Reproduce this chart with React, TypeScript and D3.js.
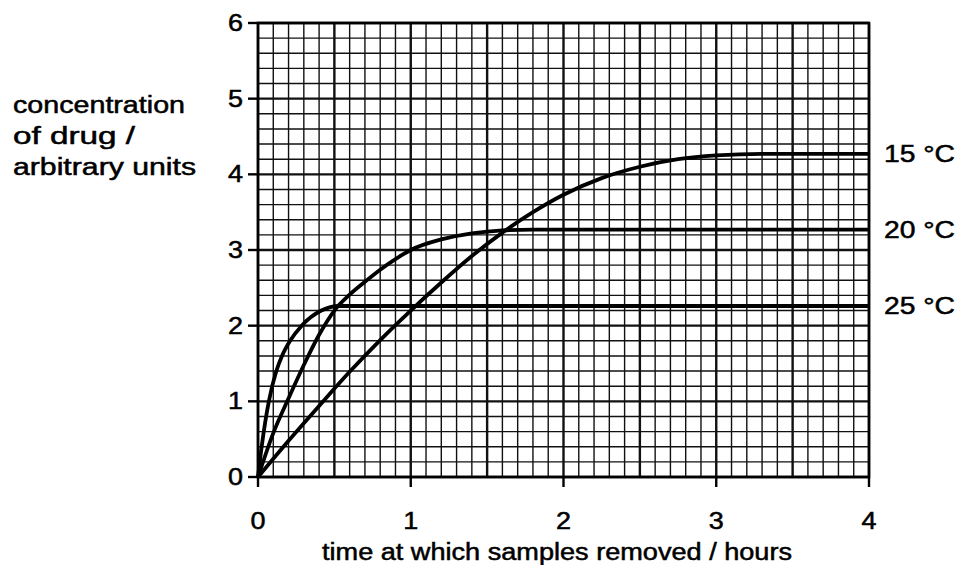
import React, {useEffect, useRef} from 'react'
import * as d3 from 'd3'

const width = 958
const height = 565
const margin = {top: 23, right: 89, bottom: 88, left: 258}
const innerWidth = width - margin.left - margin.right
const innerHeight = height - margin.top - margin.bottom

// readings (time in hours, concentration in arbitrary units)
const time15 = [0, 0.2, 0.4, 0.6, 0.8, 1, 1.2, 1.4, 1.6, 1.8, 2, 2.25, 2.5, 2.75, 3, 3.3, 4]
const conc15 = [0, 0.48, 0.94, 1.39, 1.81, 2.2, 2.57, 2.92, 3.23, 3.5, 3.73, 3.95, 4.1, 4.2, 4.25, 4.27, 4.27]
const time20 = [0, 0.1, 0.2, 0.3, 0.4, 0.5, 0.6, 0.7, 0.8, 0.9, 1, 1.2, 1.4, 1.6, 1.8, 4]
const conc20 = [0, 0.58, 1.04, 1.48, 1.88, 2.2, 2.41, 2.58, 2.74, 2.88, 3.0, 3.14, 3.22, 3.26, 3.27, 3.27]
const time25 = [0, 0.024, 0.071, 0.12, 0.157, 0.21, 0.286, 0.415, 0.53, 0.7, 4]
const conc25 = [0, 0.4, 1.0, 1.4, 1.6, 1.8, 2.0, 2.2, 2.26, 2.26, 2.26]

const seriesLabels = ['15 °C', '20 °C', '25 °C']
const xTicks = [0, 1, 2, 3, 4]
const yTicks = [0, 1, 2, 3, 4, 5, 6]
const yTitle = ['concentration', 'of drug /', 'arbitrary units']
const xTitle = 'time at which samples removed / hours'

const font = '"Liberation Sans", Arial, sans-serif'

const App = () => {
  const chartRef = useRef<SVGSVGElement>(null)

  useEffect(() => {
    drawChart()
  }, [])

  const addText = (sel: any) =>
    sel
      .style('font-family', font)
      .style('font-size', '23px')
      .attr('fill', '#000')
      .attr('stroke', '#000')
      .attr('stroke-width', 0.5)
      .attr('lengthAdjust', 'spacingAndGlyphs')

  const drawChart = () => {
    const svg = d3.select(chartRef.current)
    svg.selectAll('*').remove()

    const xScale = d3.scaleLinear().domain([0, 4]).range([0, innerWidth])
    const yScale = d3.scaleLinear().domain([0, 6]).range([innerHeight, 0])

    const g = svg
      .append('g')
      .attr('transform', `translate(${margin.left},${margin.top})`)

    // graph paper
    const vLines = d3.range(0, 41).map(i => i / 10)
    const hLines = d3.range(0, 31).map(i => i / 5)

    g.selectAll('.vgrid')
      .data(vLines)
      .enter()
      .append('line')
      .attr('x1', d => xScale(d))
      .attr('x2', d => xScale(d))
      .attr('y1', 0)
      .attr('y2', innerHeight)
      .attr('stroke', '#111')
      .attr('stroke-width', (d, i) => (i % 5 === 0 ? 2.4 : 1.4))

    g.selectAll('.hgrid')
      .data(hLines)
      .enter()
      .append('line')
      .attr('x1', 0)
      .attr('x2', innerWidth)
      .attr('y1', d => yScale(d))
      .attr('y2', d => yScale(d))
      .attr('stroke', '#111')
      .attr('stroke-width', (d, i) => (i % 5 === 0 ? 2.4 : 1.4))

    g.append('rect')
      .attr('width', innerWidth)
      .attr('height', innerHeight)
      .attr('fill', 'none')
      .attr('stroke', '#000')
      .attr('stroke-width', 2.6)

    // ticks
    g.selectAll('.xtick')
      .data(xTicks)
      .enter()
      .append('line')
      .attr('x1', d => xScale(d))
      .attr('x2', d => xScale(d))
      .attr('y1', innerHeight)
      .attr('y2', innerHeight + 10)
      .attr('stroke', '#000')
      .attr('stroke-width', 2.4)

    g.selectAll('.ytick')
      .data(yTicks)
      .enter()
      .append('line')
      .attr('x1', -10)
      .attr('x2', 0)
      .attr('y1', d => yScale(d))
      .attr('y2', d => yScale(d))
      .attr('stroke', '#000')
      .attr('stroke-width', 2.4)

    addText(
      g.selectAll('.xlabel')
        .data(xTicks)
        .enter()
        .append('text')
        .attr('x', d => xScale(d))
        .attr('y', innerHeight + 52)
        .attr('text-anchor', 'middle')
        .attr('textLength', 15),
    ).text(d => d)

    addText(
      g.selectAll('.ylabel')
        .data(yTicks)
        .enter()
        .append('text')
        .attr('x', -15)
        .attr('y', d => yScale(d) + 8)
        .attr('text-anchor', 'end')
        .attr('textLength', 15),
    ).text(d => d)

    // curves
    const line = d3
      .line<[number, number]>()
      .x(d => xScale(d[0]))
      .y(d => yScale(d[1]))
      .curve(d3.curveMonotoneX)

    const series = [
      {t: time15, c: conc15},
      {t: time20, c: conc20},
      {t: time25, c: conc25},
    ]

    series.forEach((s, i) => {
      const pts = s.t.map((t, j) => [t, s.c[j]] as [number, number])
      g.append('path')
        .attr('d', line(pts))
        .attr('fill', 'none')
        .attr('stroke', '#000')
        .attr('stroke-width', 3.8)
        .attr('stroke-linejoin', 'round')

      addText(
        g.append('text')
          .attr('x', innerWidth + 15)
          .attr('y', yScale(s.c[s.c.length - 1]) + 8)
          .attr('textLength', 71),
      ).text(seriesLabels[i])
    })

    // axis titles
    addText(
      svg
        .selectAll('.ytitle')
        .data(yTitle)
        .enter()
        .append('text')
        .attr('x', 13)
        .attr('y', (d, i) => 113 + i * 31)
        .attr('textLength', (d, i) => [172, 122, 183][i]),
    ).text(d => d)

    addText(
      svg
        .append('text')
        .attr('x', 322)
        .attr('y', 560)
        .attr('textLength', 470),
    ).text(xTitle)
  }

  return (
    <div style={{position: 'absolute', left: 0, top: 0}}>
      <svg ref={chartRef} width={width} height={height} style={{display: 'block', background: '#fff'}}></svg>
    </div>
  )
}

export default App
